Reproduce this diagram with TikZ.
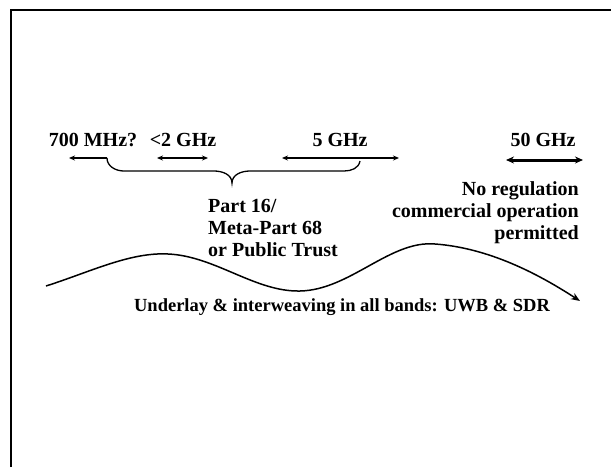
\documentclass[tikz,border=0pt]{standalone}
\usepackage{fontspec}
\setmainfont{Liberation Serif}
\usetikzlibrary{arrows.meta}
\begin{document}
\begin{tikzpicture}[x=1pt,y=1pt,
  lbl/.style={font=\fontsize{20}{22}\selectfont\bfseries, inner sep=0pt},
  bandboth/.style={line width=1.3pt, {Stealth[length=6pt,width=5pt]}-{Stealth[length=6pt,width=5pt]}},
  thickband/.style={line width=3pt, {Stealth[length=8pt,width=7pt]}-{Stealth[length=8pt,width=7pt]}},
  ]
\useasboundingbox (0,0) rectangle (611,-467);
\draw[line width=2pt] (11,-467) -- (11,-10) -- (611,-10);
% labels
\node[lbl] (l700) at (93,-140) {700 MHz?};
\node[lbl] (l2) at (183,-140) {<2 GHz};
\node[lbl] (l5) at (340,-140) {5 GHz};
\node[lbl] (l50) at (543,-140) {50 GHz};
% arrows
\coordinate (a1) at (69,-158); \coordinate (a2) at (107,-158);
\draw[line width=1.3pt, {Stealth[length=6pt,width=5pt]}-] (a1) -- (a2);
\coordinate (b1) at (157,-158); \coordinate (b2) at (208,-158);
\draw[bandboth] (b1) -- (b2);
\coordinate (c1) at (282,-158); \coordinate (c2) at (399,-158);
\draw[bandboth] (c1) -- (c2);
\coordinate (d1) at (506,-160); \coordinate (d2) at (583,-160);
\draw[thickband] (d1) -- (d2);
% brace
\coordinate (br) at (360,-161);
\draw[line width=1.3pt] (a2) to[out=-90,in=180] (124,-171) -- (214,-171)
  to[out=0,in=90] (232,-183) to[out=90,in=180] (250,-171) -- (344,-171)
  to[out=0,in=-100] (br);
% part 16 text
\node[lbl, align=left, anchor=north west] (p16) at (208,-199) {Part 16/\\Meta-Part 68\\or Public Trust};
\node[lbl, align=right, anchor=north east] (noreg) at (579,-181) {No regulation\\commercial operation\\permitted};
% wave
\coordinate (w0) at (46,-286);
\coordinate (w4) at (580,-301);
\draw[line width=1.5pt, -{Stealth[length=9pt,width=7pt]}] (w0)
  .. controls (90,-272) and (130,-252) .. (168,-254)
  .. controls (215,-256) and (255,-292) .. (300,-291)
  .. controls (350,-290) and (390,-240) .. (435,-244)
  .. controls (490,-248) and (540,-275) .. (w4);
\node[lbl, font=\fontsize{18.5}{22}\selectfont\bfseries] (under) at (342,-307) {Underlay \& interweaving in all bands: UWB \& SDR};
\end{tikzpicture}
\end{document}
